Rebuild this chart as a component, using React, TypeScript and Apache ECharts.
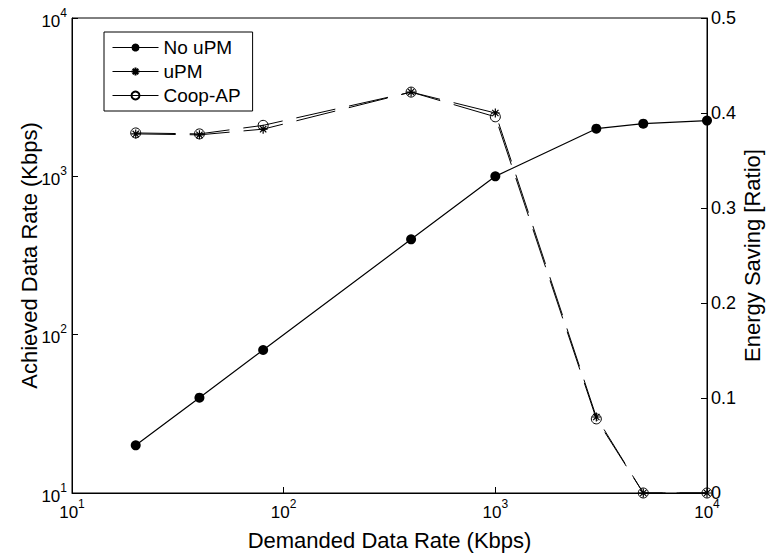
import React, { useEffect, useRef } from "react";
import * as echarts from "echarts";

const demandRates = [20, 40, 80, 400, 1000, 3000, 5000, 10000];
const achievedNoUPM = [20, 40, 80, 400, 1000, 2000, 2150, 2250];
const savingUPM = [0.378, 0.377, 0.383, 0.422, 0.4, 0.08, 0, 0];
const savingCoop = [0.379, 0.378, 0.387, 0.422, 0.396, 0.078, 0, 0];
const seriesNames = ["No uPM", "uPM", "Coop-AP"];

const FONT = "Liberation Sans, Arial, sans-serif";
const ASTERISK = "path://M5,0L5,10M0,5L10,5M1.5,1.5L8.5,8.5M1.5,8.5L8.5,1.5";

const powLabel = (v: number) => {
  const e = Math.round(Math.log10(v));
  return `{b|10}{s|${e}}`;
};
const powRich = {
  b: { fontFamily: FONT, fontSize: 17, color: "#000", padding: [6, 0, 0, 0] },
  s: { fontFamily: FONT, fontSize: 12, color: "#000", verticalAlign: "top", padding: [0, 0, 8, 0] },
};

export default function App() {
  const ref = useRef<HTMLDivElement>(null);
  useEffect(() => {
    const chart = echarts.init(ref.current!, undefined, { renderer: "svg" });
    const pair = (ys: number[]) => demandRates.map((x, i) => [x, ys[i]]);
    chart.setOption({
      animation: false,
      backgroundColor: "#fff",
      textStyle: { fontFamily: FONT },
      grid: {
        left: 72,
        right: 62,
        top: 18,
        bottom: 65,
        containLabel: false,
        outerBoundsMode: "none",
        show: true,
        borderColor: "#000",
        borderWidth: 1,
      },
      legend: {
        orient: "vertical",
        left: 104,
        top: 32,
        padding: [6, 12, 6, 8],
        itemGap: 5,
        itemWidth: 46,
        itemHeight: 10,
        borderColor: "#000",
        borderWidth: 1,
        backgroundColor: "#fff",
        textStyle: { fontFamily: FONT, fontSize: 19, color: "#000" },
        data: seriesNames.map((n) => ({ name: n, lineStyle: { type: "solid", width: 1 } })),
      },
      xAxis: {
        type: "log",
        logBase: 10,
        min: 10,
        max: 10000,
        name: "Demanded Data Rate (Kbps)",
        nameLocation: "middle",
        nameGap: 36,
        nameMoveOverlap: false,
        nameTextStyle: { fontFamily: FONT, fontSize: 22, color: "#000" },
        axisLine: { lineStyle: { color: "#000" } },
        axisTick: { inside: true, length: 6, lineStyle: { color: "#000" } },
        splitLine: { show: false },
        axisLabel: { formatter: powLabel, rich: powRich, margin: 5 },
      },
      yAxis: [
        {
          type: "log",
          logBase: 10,
          min: 10,
          max: 10000,
          name: "Achieved Data Rate (Kbps)",
          nameLocation: "middle",
          nameGap: 32,
          nameMoveOverlap: false,
          nameTextStyle: { fontFamily: FONT, fontSize: 22, color: "#000" },
          axisLine: { show: true, lineStyle: { color: "#000" } },
          axisTick: { show: true, inside: true, length: 6, lineStyle: { color: "#000" } },
          splitLine: { show: false },
          axisLabel: { formatter: powLabel, rich: powRich, margin: 5 },
        },
        {
          type: "value",
          min: 0,
          max: 0.5,
          interval: 0.1,
          position: "right",
          name: "Energy Saving [Ratio]",
          nameLocation: "middle",
          nameGap: 34,
          nameRotate: 90,
          nameMoveOverlap: false,
          nameTextStyle: { fontFamily: FONT, fontSize: 22, color: "#000" },
          axisLine: { show: true, lineStyle: { color: "#000" } },
          axisTick: { show: true, inside: true, length: 6, lineStyle: { color: "#000" } },
          splitLine: { show: false },
          axisLabel: {
            fontFamily: FONT,
            fontSize: 18,
            color: "#000",
            margin: 4,
            formatter: (v: number) => (v === 0 ? "0" : v.toFixed(1)),
          },
        },
      ],
      series: [
        {
          name: "uPM",
          type: "line",
          yAxisIndex: 1,
          data: pair(savingUPM),
          symbol: ASTERISK,
          symbolSize: 9,
          itemStyle: { color: "transparent", borderColor: "#000", borderWidth: 1.2 },
          lineStyle: { color: "#000", width: 1, type: [40, 14] },
          color: "#000",
        },
        {
          name: "Coop-AP",
          type: "line",
          yAxisIndex: 1,
          data: pair(savingCoop),
          symbol: "circle",
          symbolSize: 10,
          itemStyle: { color: "transparent", borderColor: "#000", borderWidth: 1 },
          lineStyle: { color: "#000", width: 1, type: [40, 14] },
          color: "#000",
        },
        {
          name: "No uPM",
          type: "line",
          yAxisIndex: 0,
          data: pair(achievedNoUPM),
          symbol: "circle",
          symbolSize: 10,
          itemStyle: { color: "#000" },
          lineStyle: { color: "#000", width: 1.2 },
          color: "#000",
          z: 3,
        },
      ],
    });
    return () => chart.dispose();
  }, []);
  return (
    <div
      ref={ref}
      style={{ position: "absolute", left: 0, top: 0, width: 769, height: 558 }}
    />
  );
}
